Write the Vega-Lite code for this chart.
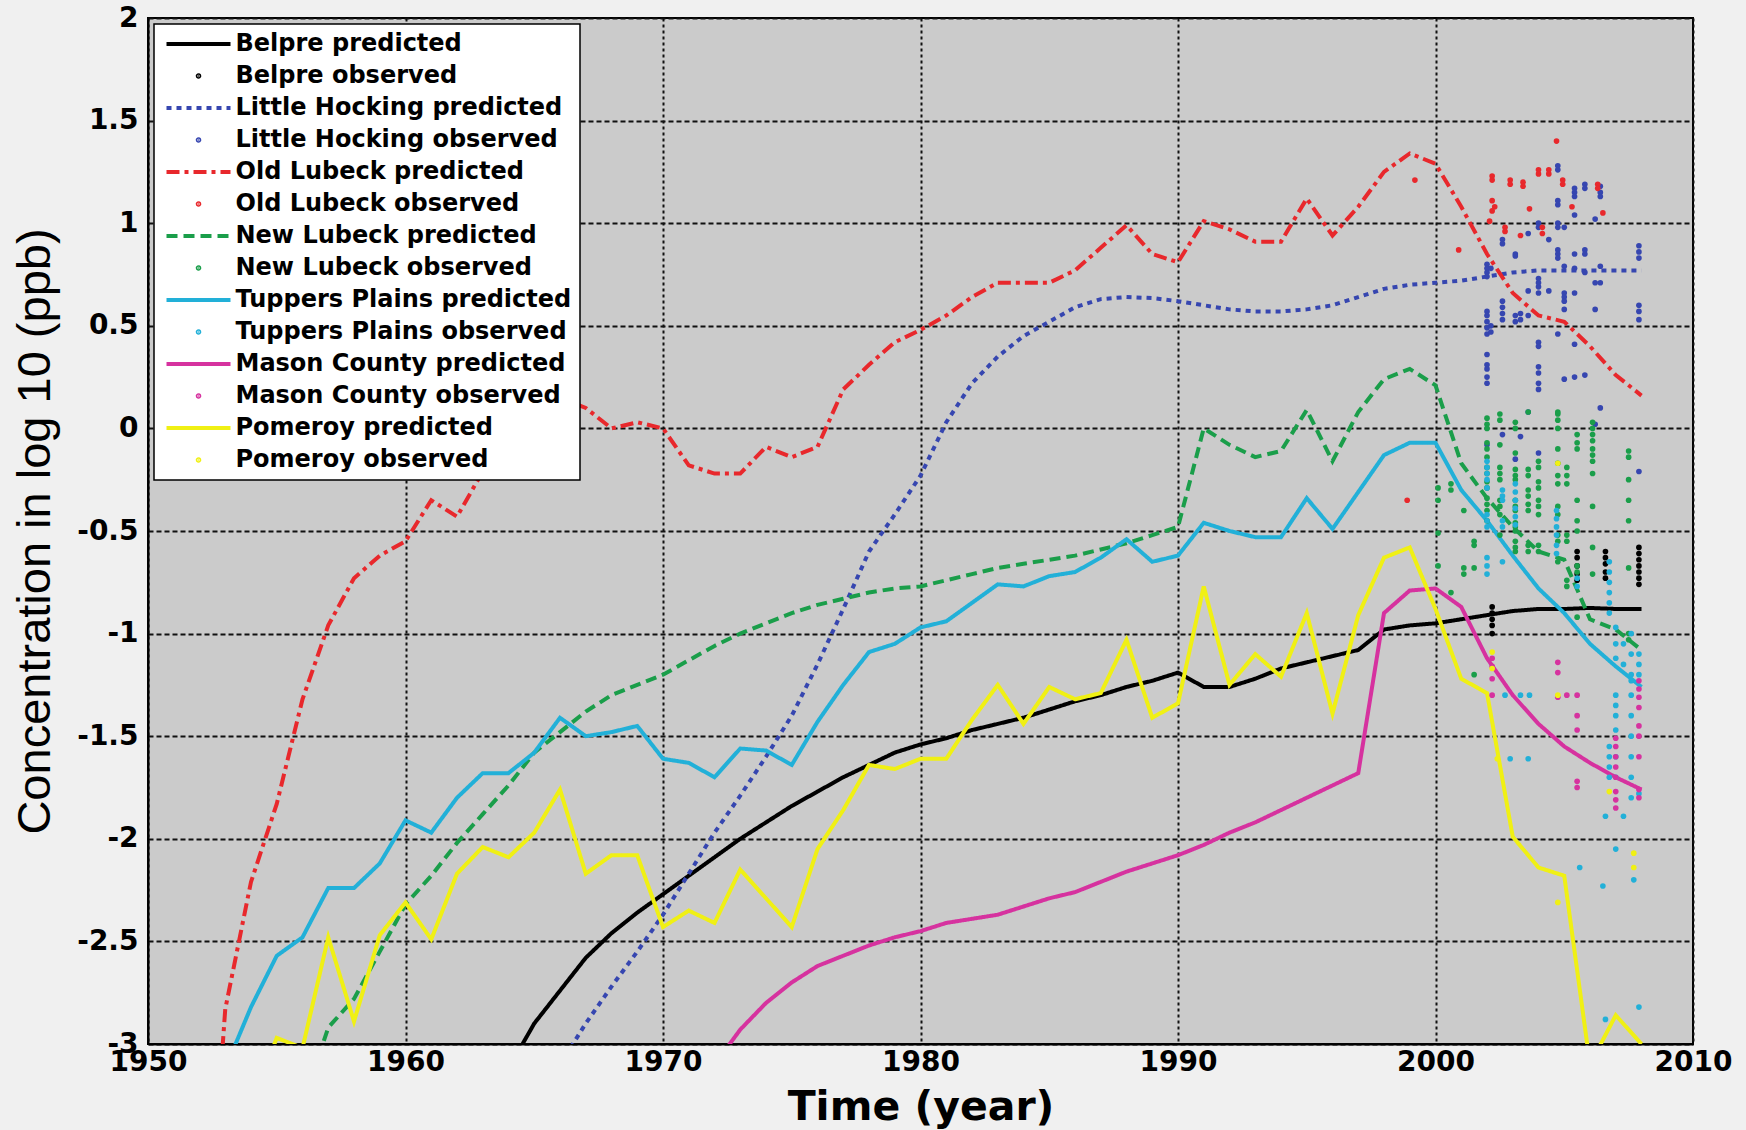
{
  "$schema": "https://vega.github.io/schema/vega-lite/v6.json",
  "width": 1545,
  "height": 1026,
  "autosize": {"type": "none"},
  "padding": {"left": 148, "top": 18, "right": 53, "bottom": 86},
  "background": "#f0f0f0",
  "config": {
    "view": {"fill": "#cbcbcb", "stroke": "#000000", "strokeWidth": 2},
    "axisX": {
      "labelFont": "DejaVu Sans", "labelFontWeight": "bold", "labelFontSize": 28, "labelColor": "#000000",
      "labelPadding": 4, "labelFlush": false, "ticks": false,
      "domainColor": "#000000", "domainWidth": 2,
      "grid": true, "gridColor": "#111111", "gridDash": [3, 3], "gridWidth": 2, "gridOpacity": 1,
      "titleFont": "DejaVu Sans", "titleFontWeight": "bold", "titleFontSize": 41, "titleColor": "#000000", "titlePadding": 11
    },
    "axisY": {
      "labelFont": "DejaVu Sans", "labelFontWeight": "bold", "labelFontSize": 28, "labelColor": "#000000",
      "labelPadding": 10, "ticks": false,
      "domainColor": "#000000", "domainWidth": 2,
      "grid": true, "gridColor": "#111111", "gridDash": [5, 3], "gridWidth": 2, "gridOpacity": 1,
      "titleFont": "Liberation Sans", "titleFontWeight": "normal", "titleFontSize": 47, "titleColor": "#000000", "titlePadding": 17
    }
  },
  "datasets": {
    "predicted": [
      {"s":"Belpre predicted","t":1964,"v":-3.12},{"s":"Belpre predicted","t":1965,"v":-2.9},{"s":"Belpre predicted","t":1966,"v":-2.74},{"s":"Belpre predicted","t":1967,"v":-2.58},{"s":"Belpre predicted","t":1968,"v":-2.46},{"s":"Belpre predicted","t":1969,"v":-2.36},{"s":"Belpre predicted","t":1970,"v":-2.27},{"s":"Belpre predicted","t":1971,"v":-2.18},{"s":"Belpre predicted","t":1972,"v":-2.09},{"s":"Belpre predicted","t":1973,"v":-2.0},{"s":"Belpre predicted","t":1974,"v":-1.92},{"s":"Belpre predicted","t":1975,"v":-1.84},{"s":"Belpre predicted","t":1976,"v":-1.77},{"s":"Belpre predicted","t":1977,"v":-1.7},{"s":"Belpre predicted","t":1978,"v":-1.64},{"s":"Belpre predicted","t":1979,"v":-1.58},{"s":"Belpre predicted","t":1980,"v":-1.54},{"s":"Belpre predicted","t":1981,"v":-1.51},{"s":"Belpre predicted","t":1982,"v":-1.47},{"s":"Belpre predicted","t":1983,"v":-1.44},{"s":"Belpre predicted","t":1984,"v":-1.41},{"s":"Belpre predicted","t":1985,"v":-1.37},{"s":"Belpre predicted","t":1986,"v":-1.33},{"s":"Belpre predicted","t":1987,"v":-1.3},{"s":"Belpre predicted","t":1988,"v":-1.26},{"s":"Belpre predicted","t":1989,"v":-1.23},{"s":"Belpre predicted","t":1990,"v":-1.19},{"s":"Belpre predicted","t":1991,"v":-1.26},{"s":"Belpre predicted","t":1992,"v":-1.26},{"s":"Belpre predicted","t":1993,"v":-1.22},{"s":"Belpre predicted","t":1994,"v":-1.17},{"s":"Belpre predicted","t":1995,"v":-1.14},{"s":"Belpre predicted","t":1996,"v":-1.11},{"s":"Belpre predicted","t":1997,"v":-1.08},{"s":"Belpre predicted","t":1998,"v":-0.98},{"s":"Belpre predicted","t":1999,"v":-0.96},{"s":"Belpre predicted","t":2000,"v":-0.95},{"s":"Belpre predicted","t":2001,"v":-0.93},{"s":"Belpre predicted","t":2002,"v":-0.91},{"s":"Belpre predicted","t":2003,"v":-0.89},{"s":"Belpre predicted","t":2004,"v":-0.88},{"s":"Belpre predicted","t":2005,"v":-0.88},{"s":"Belpre predicted","t":2006,"v":-0.875},{"s":"Belpre predicted","t":2007,"v":-0.88},{"s":"Belpre predicted","t":2008,"v":-0.88},

      {"s":"Little Hocking predicted","t":1966,"v":-3.1},{"s":"Little Hocking predicted","t":1967,"v":-2.9},{"s":"Little Hocking predicted","t":1968,"v":-2.72},{"s":"Little Hocking predicted","t":1969,"v":-2.55},{"s":"Little Hocking predicted","t":1970,"v":-2.37},{"s":"Little Hocking predicted","t":1971,"v":-2.17},{"s":"Little Hocking predicted","t":1972,"v":-1.97},{"s":"Little Hocking predicted","t":1973,"v":-1.79},{"s":"Little Hocking predicted","t":1974,"v":-1.6},{"s":"Little Hocking predicted","t":1975,"v":-1.4},{"s":"Little Hocking predicted","t":1976,"v":-1.15},{"s":"Little Hocking predicted","t":1977,"v":-0.88},{"s":"Little Hocking predicted","t":1978,"v":-0.6},{"s":"Little Hocking predicted","t":1979,"v":-0.42},{"s":"Little Hocking predicted","t":1980,"v":-0.23},{"s":"Little Hocking predicted","t":1981,"v":0.03},{"s":"Little Hocking predicted","t":1982,"v":0.22},{"s":"Little Hocking predicted","t":1983,"v":0.35},{"s":"Little Hocking predicted","t":1984,"v":0.45},{"s":"Little Hocking predicted","t":1985,"v":0.52},{"s":"Little Hocking predicted","t":1986,"v":0.59},{"s":"Little Hocking predicted","t":1987,"v":0.63},{"s":"Little Hocking predicted","t":1988,"v":0.64},{"s":"Little Hocking predicted","t":1989,"v":0.635},{"s":"Little Hocking predicted","t":1990,"v":0.62},{"s":"Little Hocking predicted","t":1991,"v":0.6},{"s":"Little Hocking predicted","t":1992,"v":0.58},{"s":"Little Hocking predicted","t":1993,"v":0.57},{"s":"Little Hocking predicted","t":1994,"v":0.57},{"s":"Little Hocking predicted","t":1995,"v":0.58},{"s":"Little Hocking predicted","t":1996,"v":0.6},{"s":"Little Hocking predicted","t":1997,"v":0.64},{"s":"Little Hocking predicted","t":1998,"v":0.68},{"s":"Little Hocking predicted","t":1999,"v":0.7},{"s":"Little Hocking predicted","t":2000,"v":0.71},{"s":"Little Hocking predicted","t":2001,"v":0.72},{"s":"Little Hocking predicted","t":2002,"v":0.74},{"s":"Little Hocking predicted","t":2003,"v":0.76},{"s":"Little Hocking predicted","t":2004,"v":0.77},{"s":"Little Hocking predicted","t":2005,"v":0.77},{"s":"Little Hocking predicted","t":2006,"v":0.77},{"s":"Little Hocking predicted","t":2007,"v":0.77},{"s":"Little Hocking predicted","t":2008,"v":0.77},

      {"s":"Old Lubeck predicted","t":1952,"v":-4.6},{"s":"Old Lubeck predicted","t":1953,"v":-2.83},{"s":"Old Lubeck predicted","t":1954,"v":-2.21},{"s":"Old Lubeck predicted","t":1955,"v":-1.83},{"s":"Old Lubeck predicted","t":1956,"v":-1.32},{"s":"Old Lubeck predicted","t":1957,"v":-0.96},{"s":"Old Lubeck predicted","t":1958,"v":-0.73},{"s":"Old Lubeck predicted","t":1959,"v":-0.62},{"s":"Old Lubeck predicted","t":1960,"v":-0.55},{"s":"Old Lubeck predicted","t":1961,"v":-0.35},{"s":"Old Lubeck predicted","t":1962,"v":-0.43},{"s":"Old Lubeck predicted","t":1963,"v":-0.21},{"s":"Old Lubeck predicted","t":1964,"v":-0.06},{"s":"Old Lubeck predicted","t":1965,"v":0.06},{"s":"Old Lubeck predicted","t":1966,"v":0.15},{"s":"Old Lubeck predicted","t":1967,"v":0.1},{"s":"Old Lubeck predicted","t":1968,"v":0.0},{"s":"Old Lubeck predicted","t":1969,"v":0.03},{"s":"Old Lubeck predicted","t":1970,"v":0.0},{"s":"Old Lubeck predicted","t":1971,"v":-0.18},{"s":"Old Lubeck predicted","t":1972,"v":-0.22},{"s":"Old Lubeck predicted","t":1973,"v":-0.22},{"s":"Old Lubeck predicted","t":1974,"v":-0.09},{"s":"Old Lubeck predicted","t":1975,"v":-0.14},{"s":"Old Lubeck predicted","t":1976,"v":-0.09},{"s":"Old Lubeck predicted","t":1977,"v":0.19},{"s":"Old Lubeck predicted","t":1978,"v":0.31},{"s":"Old Lubeck predicted","t":1979,"v":0.42},{"s":"Old Lubeck predicted","t":1980,"v":0.48},{"s":"Old Lubeck predicted","t":1981,"v":0.55},{"s":"Old Lubeck predicted","t":1982,"v":0.64},{"s":"Old Lubeck predicted","t":1983,"v":0.71},{"s":"Old Lubeck predicted","t":1984,"v":0.71},{"s":"Old Lubeck predicted","t":1985,"v":0.71},{"s":"Old Lubeck predicted","t":1986,"v":0.77},{"s":"Old Lubeck predicted","t":1987,"v":0.88},{"s":"Old Lubeck predicted","t":1988,"v":0.99},{"s":"Old Lubeck predicted","t":1989,"v":0.85},{"s":"Old Lubeck predicted","t":1990,"v":0.81},{"s":"Old Lubeck predicted","t":1991,"v":1.01},{"s":"Old Lubeck predicted","t":1992,"v":0.97},{"s":"Old Lubeck predicted","t":1993,"v":0.91},{"s":"Old Lubeck predicted","t":1994,"v":0.91},{"s":"Old Lubeck predicted","t":1995,"v":1.12},{"s":"Old Lubeck predicted","t":1996,"v":0.94},{"s":"Old Lubeck predicted","t":1997,"v":1.08},{"s":"Old Lubeck predicted","t":1998,"v":1.25},{"s":"Old Lubeck predicted","t":1999,"v":1.34},{"s":"Old Lubeck predicted","t":2000,"v":1.29},{"s":"Old Lubeck predicted","t":2001,"v":1.08},{"s":"Old Lubeck predicted","t":2002,"v":0.85},{"s":"Old Lubeck predicted","t":2003,"v":0.66},{"s":"Old Lubeck predicted","t":2004,"v":0.55},{"s":"Old Lubeck predicted","t":2005,"v":0.52},{"s":"Old Lubeck predicted","t":2006,"v":0.4},{"s":"Old Lubeck predicted","t":2007,"v":0.26},{"s":"Old Lubeck predicted","t":2008,"v":0.16},

      {"s":"New Lubeck predicted","t":1956,"v":-3.3},{"s":"New Lubeck predicted","t":1957,"v":-2.92},{"s":"New Lubeck predicted","t":1958,"v":-2.78},{"s":"New Lubeck predicted","t":1959,"v":-2.55},{"s":"New Lubeck predicted","t":1960,"v":-2.32},{"s":"New Lubeck predicted","t":1961,"v":-2.18},{"s":"New Lubeck predicted","t":1962,"v":-2.02},{"s":"New Lubeck predicted","t":1963,"v":-1.88},{"s":"New Lubeck predicted","t":1964,"v":-1.74},{"s":"New Lubeck predicted","t":1965,"v":-1.58},{"s":"New Lubeck predicted","t":1966,"v":-1.48},{"s":"New Lubeck predicted","t":1967,"v":-1.38},{"s":"New Lubeck predicted","t":1968,"v":-1.3},{"s":"New Lubeck predicted","t":1969,"v":-1.25},{"s":"New Lubeck predicted","t":1970,"v":-1.2},{"s":"New Lubeck predicted","t":1971,"v":-1.13},{"s":"New Lubeck predicted","t":1972,"v":-1.06},{"s":"New Lubeck predicted","t":1973,"v":-1.0},{"s":"New Lubeck predicted","t":1974,"v":-0.95},{"s":"New Lubeck predicted","t":1975,"v":-0.9},{"s":"New Lubeck predicted","t":1976,"v":-0.86},{"s":"New Lubeck predicted","t":1977,"v":-0.83},{"s":"New Lubeck predicted","t":1978,"v":-0.8},{"s":"New Lubeck predicted","t":1979,"v":-0.78},{"s":"New Lubeck predicted","t":1980,"v":-0.77},{"s":"New Lubeck predicted","t":1981,"v":-0.74},{"s":"New Lubeck predicted","t":1982,"v":-0.71},{"s":"New Lubeck predicted","t":1983,"v":-0.68},{"s":"New Lubeck predicted","t":1984,"v":-0.66},{"s":"New Lubeck predicted","t":1985,"v":-0.64},{"s":"New Lubeck predicted","t":1986,"v":-0.62},{"s":"New Lubeck predicted","t":1987,"v":-0.59},{"s":"New Lubeck predicted","t":1988,"v":-0.56},{"s":"New Lubeck predicted","t":1989,"v":-0.52},{"s":"New Lubeck predicted","t":1990,"v":-0.48},{"s":"New Lubeck predicted","t":1991,"v":0.0},{"s":"New Lubeck predicted","t":1992,"v":-0.08},{"s":"New Lubeck predicted","t":1993,"v":-0.14},{"s":"New Lubeck predicted","t":1994,"v":-0.11},{"s":"New Lubeck predicted","t":1995,"v":0.09},{"s":"New Lubeck predicted","t":1996,"v":-0.16},{"s":"New Lubeck predicted","t":1997,"v":0.08},{"s":"New Lubeck predicted","t":1998,"v":0.24},{"s":"New Lubeck predicted","t":1999,"v":0.29},{"s":"New Lubeck predicted","t":2000,"v":0.21},{"s":"New Lubeck predicted","t":2001,"v":-0.17},{"s":"New Lubeck predicted","t":2002,"v":-0.34},{"s":"New Lubeck predicted","t":2003,"v":-0.48},{"s":"New Lubeck predicted","t":2004,"v":-0.6},{"s":"New Lubeck predicted","t":2005,"v":-0.64},{"s":"New Lubeck predicted","t":2006,"v":-0.93},{"s":"New Lubeck predicted","t":2007,"v":-0.98},{"s":"New Lubeck predicted","t":2008,"v":-1.08},

      {"s":"Tuppers Plains predicted","t":1953,"v":-3.12},{"s":"Tuppers Plains predicted","t":1954,"v":-2.82},{"s":"Tuppers Plains predicted","t":1955,"v":-2.57},{"s":"Tuppers Plains predicted","t":1956,"v":-2.48},{"s":"Tuppers Plains predicted","t":1957,"v":-2.24},{"s":"Tuppers Plains predicted","t":1958,"v":-2.24},{"s":"Tuppers Plains predicted","t":1959,"v":-2.12},{"s":"Tuppers Plains predicted","t":1960,"v":-1.91},{"s":"Tuppers Plains predicted","t":1961,"v":-1.97},{"s":"Tuppers Plains predicted","t":1962,"v":-1.8},{"s":"Tuppers Plains predicted","t":1963,"v":-1.68},{"s":"Tuppers Plains predicted","t":1964,"v":-1.68},{"s":"Tuppers Plains predicted","t":1965,"v":-1.58},{"s":"Tuppers Plains predicted","t":1966,"v":-1.41},{"s":"Tuppers Plains predicted","t":1967,"v":-1.5},{"s":"Tuppers Plains predicted","t":1968,"v":-1.48},{"s":"Tuppers Plains predicted","t":1969,"v":-1.45},{"s":"Tuppers Plains predicted","t":1970,"v":-1.61},{"s":"Tuppers Plains predicted","t":1971,"v":-1.63},{"s":"Tuppers Plains predicted","t":1972,"v":-1.7},{"s":"Tuppers Plains predicted","t":1973,"v":-1.56},{"s":"Tuppers Plains predicted","t":1974,"v":-1.57},{"s":"Tuppers Plains predicted","t":1975,"v":-1.64},{"s":"Tuppers Plains predicted","t":1976,"v":-1.43},{"s":"Tuppers Plains predicted","t":1977,"v":-1.25},{"s":"Tuppers Plains predicted","t":1978,"v":-1.09},{"s":"Tuppers Plains predicted","t":1979,"v":-1.05},{"s":"Tuppers Plains predicted","t":1980,"v":-0.97},{"s":"Tuppers Plains predicted","t":1981,"v":-0.94},{"s":"Tuppers Plains predicted","t":1982,"v":-0.85},{"s":"Tuppers Plains predicted","t":1983,"v":-0.76},{"s":"Tuppers Plains predicted","t":1984,"v":-0.77},{"s":"Tuppers Plains predicted","t":1985,"v":-0.72},{"s":"Tuppers Plains predicted","t":1986,"v":-0.7},{"s":"Tuppers Plains predicted","t":1987,"v":-0.63},{"s":"Tuppers Plains predicted","t":1988,"v":-0.54},{"s":"Tuppers Plains predicted","t":1989,"v":-0.65},{"s":"Tuppers Plains predicted","t":1990,"v":-0.62},{"s":"Tuppers Plains predicted","t":1991,"v":-0.46},{"s":"Tuppers Plains predicted","t":1992,"v":-0.5},{"s":"Tuppers Plains predicted","t":1993,"v":-0.53},{"s":"Tuppers Plains predicted","t":1994,"v":-0.53},{"s":"Tuppers Plains predicted","t":1995,"v":-0.34},{"s":"Tuppers Plains predicted","t":1996,"v":-0.49},{"s":"Tuppers Plains predicted","t":1997,"v":-0.31},{"s":"Tuppers Plains predicted","t":1998,"v":-0.13},{"s":"Tuppers Plains predicted","t":1999,"v":-0.07},{"s":"Tuppers Plains predicted","t":2000,"v":-0.07},{"s":"Tuppers Plains predicted","t":2001,"v":-0.3},{"s":"Tuppers Plains predicted","t":2002,"v":-0.45},{"s":"Tuppers Plains predicted","t":2003,"v":-0.62},{"s":"Tuppers Plains predicted","t":2004,"v":-0.78},{"s":"Tuppers Plains predicted","t":2005,"v":-0.9},{"s":"Tuppers Plains predicted","t":2006,"v":-1.05},{"s":"Tuppers Plains predicted","t":2007,"v":-1.16},{"s":"Tuppers Plains predicted","t":2008,"v":-1.26},

      {"s":"Mason County predicted","t":1972,"v":-3.1},{"s":"Mason County predicted","t":1973,"v":-2.93},{"s":"Mason County predicted","t":1974,"v":-2.8},{"s":"Mason County predicted","t":1975,"v":-2.7},{"s":"Mason County predicted","t":1976,"v":-2.62},{"s":"Mason County predicted","t":1977,"v":-2.57},{"s":"Mason County predicted","t":1978,"v":-2.52},{"s":"Mason County predicted","t":1979,"v":-2.48},{"s":"Mason County predicted","t":1980,"v":-2.45},{"s":"Mason County predicted","t":1981,"v":-2.41},{"s":"Mason County predicted","t":1982,"v":-2.39},{"s":"Mason County predicted","t":1983,"v":-2.37},{"s":"Mason County predicted","t":1984,"v":-2.33},{"s":"Mason County predicted","t":1985,"v":-2.29},{"s":"Mason County predicted","t":1986,"v":-2.26},{"s":"Mason County predicted","t":1987,"v":-2.21},{"s":"Mason County predicted","t":1988,"v":-2.16},{"s":"Mason County predicted","t":1989,"v":-2.12},{"s":"Mason County predicted","t":1990,"v":-2.08},{"s":"Mason County predicted","t":1991,"v":-2.03},{"s":"Mason County predicted","t":1992,"v":-1.97},{"s":"Mason County predicted","t":1993,"v":-1.92},{"s":"Mason County predicted","t":1994,"v":-1.86},{"s":"Mason County predicted","t":1995,"v":-1.8},{"s":"Mason County predicted","t":1996,"v":-1.74},{"s":"Mason County predicted","t":1997,"v":-1.68},{"s":"Mason County predicted","t":1998,"v":-0.9},{"s":"Mason County predicted","t":1999,"v":-0.79},{"s":"Mason County predicted","t":2000,"v":-0.78},{"s":"Mason County predicted","t":2001,"v":-0.87},{"s":"Mason County predicted","t":2002,"v":-1.12},{"s":"Mason County predicted","t":2003,"v":-1.3},{"s":"Mason County predicted","t":2004,"v":-1.44},{"s":"Mason County predicted","t":2005,"v":-1.55},{"s":"Mason County predicted","t":2006,"v":-1.63},{"s":"Mason County predicted","t":2007,"v":-1.7},{"s":"Mason County predicted","t":2008,"v":-1.76},

      {"s":"Pomeroy predicted","t":1954,"v":-3.3},{"s":"Pomeroy predicted","t":1955,"v":-2.97},{"s":"Pomeroy predicted","t":1956,"v":-3.02},{"s":"Pomeroy predicted","t":1957,"v":-2.48},{"s":"Pomeroy predicted","t":1958,"v":-2.89},{"s":"Pomeroy predicted","t":1959,"v":-2.47},{"s":"Pomeroy predicted","t":1960,"v":-2.31},{"s":"Pomeroy predicted","t":1961,"v":-2.49},{"s":"Pomeroy predicted","t":1962,"v":-2.17},{"s":"Pomeroy predicted","t":1963,"v":-2.04},{"s":"Pomeroy predicted","t":1964,"v":-2.09},{"s":"Pomeroy predicted","t":1965,"v":-1.97},{"s":"Pomeroy predicted","t":1966,"v":-1.76},{"s":"Pomeroy predicted","t":1967,"v":-2.17},{"s":"Pomeroy predicted","t":1968,"v":-2.08},{"s":"Pomeroy predicted","t":1969,"v":-2.08},{"s":"Pomeroy predicted","t":1970,"v":-2.43},{"s":"Pomeroy predicted","t":1971,"v":-2.35},{"s":"Pomeroy predicted","t":1972,"v":-2.41},{"s":"Pomeroy predicted","t":1973,"v":-2.15},{"s":"Pomeroy predicted","t":1974,"v":-2.29},{"s":"Pomeroy predicted","t":1975,"v":-2.43},{"s":"Pomeroy predicted","t":1976,"v":-2.05},{"s":"Pomeroy predicted","t":1977,"v":-1.86},{"s":"Pomeroy predicted","t":1978,"v":-1.64},{"s":"Pomeroy predicted","t":1979,"v":-1.66},{"s":"Pomeroy predicted","t":1980,"v":-1.61},{"s":"Pomeroy predicted","t":1981,"v":-1.61},{"s":"Pomeroy predicted","t":1982,"v":-1.42},{"s":"Pomeroy predicted","t":1983,"v":-1.25},{"s":"Pomeroy predicted","t":1984,"v":-1.44},{"s":"Pomeroy predicted","t":1985,"v":-1.26},{"s":"Pomeroy predicted","t":1986,"v":-1.32},{"s":"Pomeroy predicted","t":1987,"v":-1.29},{"s":"Pomeroy predicted","t":1988,"v":-1.03},{"s":"Pomeroy predicted","t":1989,"v":-1.41},{"s":"Pomeroy predicted","t":1990,"v":-1.34},{"s":"Pomeroy predicted","t":1991,"v":-0.77},{"s":"Pomeroy predicted","t":1992,"v":-1.25},{"s":"Pomeroy predicted","t":1993,"v":-1.1},{"s":"Pomeroy predicted","t":1994,"v":-1.21},{"s":"Pomeroy predicted","t":1995,"v":-0.9},{"s":"Pomeroy predicted","t":1996,"v":-1.39},{"s":"Pomeroy predicted","t":1997,"v":-0.91},{"s":"Pomeroy predicted","t":1998,"v":-0.63},{"s":"Pomeroy predicted","t":1999,"v":-0.58},{"s":"Pomeroy predicted","t":2000,"v":-0.88},{"s":"Pomeroy predicted","t":2001,"v":-1.22},{"s":"Pomeroy predicted","t":2002,"v":-1.29},{"s":"Pomeroy predicted","t":2003,"v":-1.99},{"s":"Pomeroy predicted","t":2004,"v":-2.14},{"s":"Pomeroy predicted","t":2005,"v":-2.18},{"s":"Pomeroy predicted","t":2006,"v":-3.1},{"s":"Pomeroy predicted","t":2007,"v":-2.86},{"s":"Pomeroy predicted","t":2008,"v":-3.0}
    ],
    "observed": [
      {"s":"Belpre observed","t":2002.2,"v":-0.87},{"s":"Belpre observed","t":2002.2,"v":-0.9},{"s":"Belpre observed","t":2002.2,"v":-0.93},{"s":"Belpre observed","t":2002.2,"v":-0.96},{"s":"Belpre observed","t":2002.2,"v":-1.0},
      {"s":"Belpre observed","t":2005.5,"v":-0.6},{"s":"Belpre observed","t":2005.5,"v":-0.63},{"s":"Belpre observed","t":2005.5,"v":-0.67},{"s":"Belpre observed","t":2005.5,"v":-0.71},{"s":"Belpre observed","t":2005.5,"v":-0.74},
      {"s":"Belpre observed","t":2006.6,"v":-0.6},{"s":"Belpre observed","t":2006.6,"v":-0.63},{"s":"Belpre observed","t":2006.6,"v":-0.66},{"s":"Belpre observed","t":2006.6,"v":-0.7},{"s":"Belpre observed","t":2006.6,"v":-0.73},
      {"s":"Belpre observed","t":2007.9,"v":-0.58},{"s":"Belpre observed","t":2007.9,"v":-0.61},{"s":"Belpre observed","t":2007.9,"v":-0.64},{"s":"Belpre observed","t":2007.9,"v":-0.67},{"s":"Belpre observed","t":2007.9,"v":-0.7},{"s":"Belpre observed","t":2007.9,"v":-0.73},{"s":"Belpre observed","t":2007.9,"v":-0.76},

      {"s":"Little Hocking observed","t":2002.0,"v":0.8},{"s":"Little Hocking observed","t":2002.0,"v":0.78},{"s":"Little Hocking observed","t":2002.0,"v":0.76},{"s":"Little Hocking observed","t":2002.0,"v":0.74},{"s":"Little Hocking observed","t":2002.0,"v":0.57},{"s":"Little Hocking observed","t":2002.0,"v":0.55},{"s":"Little Hocking observed","t":2002.0,"v":0.52},{"s":"Little Hocking observed","t":2002.0,"v":0.49},{"s":"Little Hocking observed","t":2002.0,"v":0.46},{"s":"Little Hocking observed","t":2002.0,"v":0.36},{"s":"Little Hocking observed","t":2002.0,"v":0.31},{"s":"Little Hocking observed","t":2002.0,"v":0.29},{"s":"Little Hocking observed","t":2002.0,"v":0.25},{"s":"Little Hocking observed","t":2002.0,"v":0.22},{"s":"Little Hocking observed","t":2002.0,"v":-0.08},
      {"s":"Little Hocking observed","t":2002.15,"v":0.78},{"s":"Little Hocking observed","t":2002.15,"v":0.5},{"s":"Little Hocking observed","t":2002.15,"v":0.47},
      {"s":"Little Hocking observed","t":2002.6,"v":0.92},{"s":"Little Hocking observed","t":2002.6,"v":0.9},{"s":"Little Hocking observed","t":2002.6,"v":0.62},{"s":"Little Hocking observed","t":2002.6,"v":0.59},{"s":"Little Hocking observed","t":2002.6,"v":0.56},{"s":"Little Hocking observed","t":2002.6,"v":0.53},{"s":"Little Hocking observed","t":2002.6,"v":-0.03},
      {"s":"Little Hocking observed","t":2003.1,"v":0.85},{"s":"Little Hocking observed","t":2003.1,"v":0.84},{"s":"Little Hocking observed","t":2003.1,"v":0.55},{"s":"Little Hocking observed","t":2003.1,"v":0.52},{"s":"Little Hocking observed","t":2003.1,"v":-0.15},
      {"s":"Little Hocking observed","t":2003.3,"v":0.56},{"s":"Little Hocking observed","t":2003.3,"v":0.53},{"s":"Little Hocking observed","t":2003.3,"v":-0.04},
      {"s":"Little Hocking observed","t":2003.6,"v":0.95},{"s":"Little Hocking observed","t":2003.6,"v":0.67},{"s":"Little Hocking observed","t":2003.6,"v":0.55},{"s":"Little Hocking observed","t":2003.6,"v":0.08},
      {"s":"Little Hocking observed","t":2004.0,"v":1.0},{"s":"Little Hocking observed","t":2004.0,"v":0.98},{"s":"Little Hocking observed","t":2004.0,"v":0.73},{"s":"Little Hocking observed","t":2004.0,"v":0.71},{"s":"Little Hocking observed","t":2004.0,"v":0.69},{"s":"Little Hocking observed","t":2004.0,"v":0.66},{"s":"Little Hocking observed","t":2004.0,"v":0.42},{"s":"Little Hocking observed","t":2004.0,"v":0.4},{"s":"Little Hocking observed","t":2004.0,"v":0.3},{"s":"Little Hocking observed","t":2004.0,"v":0.27},{"s":"Little Hocking observed","t":2004.0,"v":0.22},{"s":"Little Hocking observed","t":2004.0,"v":0.19},{"s":"Little Hocking observed","t":2004.0,"v":-0.12},
      {"s":"Little Hocking observed","t":2004.4,"v":0.92},{"s":"Little Hocking observed","t":2004.4,"v":0.67},
      {"s":"Little Hocking observed","t":2004.75,"v":1.28},{"s":"Little Hocking observed","t":2004.75,"v":1.26},{"s":"Little Hocking observed","t":2004.75,"v":1.11},{"s":"Little Hocking observed","t":2004.75,"v":1.09},{"s":"Little Hocking observed","t":2004.75,"v":1.0},{"s":"Little Hocking observed","t":2004.75,"v":0.98},{"s":"Little Hocking observed","t":2004.75,"v":0.87},{"s":"Little Hocking observed","t":2004.75,"v":0.85},{"s":"Little Hocking observed","t":2004.75,"v":0.83},{"s":"Little Hocking observed","t":2004.75,"v":0.46},
      {"s":"Little Hocking observed","t":2005.0,"v":0.98},{"s":"Little Hocking observed","t":2005.0,"v":0.79},{"s":"Little Hocking observed","t":2005.0,"v":0.66},{"s":"Little Hocking observed","t":2005.0,"v":0.64},{"s":"Little Hocking observed","t":2005.0,"v":0.62},{"s":"Little Hocking observed","t":2005.0,"v":0.58},{"s":"Little Hocking observed","t":2005.0,"v":0.24},
      {"s":"Little Hocking observed","t":2005.4,"v":1.17},{"s":"Little Hocking observed","t":2005.4,"v":1.15},{"s":"Little Hocking observed","t":2005.4,"v":1.13},{"s":"Little Hocking observed","t":2005.4,"v":1.04},{"s":"Little Hocking observed","t":2005.4,"v":0.85},{"s":"Little Hocking observed","t":2005.4,"v":0.78},{"s":"Little Hocking observed","t":2005.4,"v":0.66},{"s":"Little Hocking observed","t":2005.4,"v":0.41},{"s":"Little Hocking observed","t":2005.4,"v":0.25},
      {"s":"Little Hocking observed","t":2005.8,"v":1.19},{"s":"Little Hocking observed","t":2005.8,"v":1.17},{"s":"Little Hocking observed","t":2005.8,"v":0.87},{"s":"Little Hocking observed","t":2005.8,"v":0.85},{"s":"Little Hocking observed","t":2005.8,"v":0.76},{"s":"Little Hocking observed","t":2005.8,"v":0.26},
      {"s":"Little Hocking observed","t":2006.2,"v":1.02},{"s":"Little Hocking observed","t":2006.2,"v":0.71},{"s":"Little Hocking observed","t":2006.2,"v":0.58},{"s":"Little Hocking observed","t":2006.2,"v":0.02},
      {"s":"Little Hocking observed","t":2006.4,"v":1.18},{"s":"Little Hocking observed","t":2006.4,"v":1.15},{"s":"Little Hocking observed","t":2006.4,"v":1.13},{"s":"Little Hocking observed","t":2006.4,"v":0.79},{"s":"Little Hocking observed","t":2006.4,"v":0.71},{"s":"Little Hocking observed","t":2006.4,"v":0.1},
      {"s":"Little Hocking observed","t":2007.9,"v":0.89},{"s":"Little Hocking observed","t":2007.9,"v":0.86},{"s":"Little Hocking observed","t":2007.9,"v":0.83},{"s":"Little Hocking observed","t":2007.9,"v":0.6},{"s":"Little Hocking observed","t":2007.9,"v":0.57},{"s":"Little Hocking observed","t":2007.9,"v":0.53},{"s":"Little Hocking observed","t":2007.9,"v":-0.21},

      {"s":"Old Lubeck observed","t":1999.2,"v":1.21},{"s":"Old Lubeck observed","t":1998.9,"v":-0.35},{"s":"Old Lubeck observed","t":2000.9,"v":0.87},
      {"s":"Old Lubeck observed","t":2002.2,"v":1.23},{"s":"Old Lubeck observed","t":2002.2,"v":1.21},{"s":"Old Lubeck observed","t":2002.2,"v":1.11},{"s":"Old Lubeck observed","t":2002.3,"v":1.08},{"s":"Old Lubeck observed","t":2002.2,"v":1.06},{"s":"Old Lubeck observed","t":2002.1,"v":1.01},
      {"s":"Old Lubeck observed","t":2002.7,"v":0.98},{"s":"Old Lubeck observed","t":2002.7,"v":0.96},{"s":"Old Lubeck observed","t":2002.9,"v":1.21},{"s":"Old Lubeck observed","t":2002.9,"v":1.19},
      {"s":"Old Lubeck observed","t":2003.4,"v":1.2},{"s":"Old Lubeck observed","t":2003.4,"v":1.18},{"s":"Old Lubeck observed","t":2003.65,"v":1.07},{"s":"Old Lubeck observed","t":2003.3,"v":0.94},
      {"s":"Old Lubeck observed","t":2004.0,"v":1.26},{"s":"Old Lubeck observed","t":2004.0,"v":1.24},{"s":"Old Lubeck observed","t":2004.4,"v":1.26},{"s":"Old Lubeck observed","t":2004.4,"v":1.24},{"s":"Old Lubeck observed","t":2004.15,"v":0.98},{"s":"Old Lubeck observed","t":2004.15,"v":0.95},
      {"s":"Old Lubeck observed","t":2004.7,"v":1.4},{"s":"Old Lubeck observed","t":2004.94,"v":1.21},{"s":"Old Lubeck observed","t":2004.94,"v":1.19},{"s":"Old Lubeck observed","t":2005.3,"v":1.08},
      {"s":"Old Lubeck observed","t":2006.3,"v":1.19},{"s":"Old Lubeck observed","t":2006.3,"v":1.17},{"s":"Old Lubeck observed","t":2006.5,"v":1.05},

      {"s":"New Lubeck observed","t":2000.1,"v":-0.29},{"s":"New Lubeck observed","t":2000.1,"v":-0.35},{"s":"New Lubeck observed","t":2000.1,"v":-0.51},{"s":"New Lubeck observed","t":2000.1,"v":-0.67},
      {"s":"New Lubeck observed","t":2000.6,"v":-0.27},{"s":"New Lubeck observed","t":2000.6,"v":-0.3},{"s":"New Lubeck observed","t":2000.6,"v":-0.8},
      {"s":"New Lubeck observed","t":2001.1,"v":-0.4},{"s":"New Lubeck observed","t":2001.1,"v":-0.68},{"s":"New Lubeck observed","t":2001.1,"v":-0.71},
      {"s":"New Lubeck observed","t":2001.5,"v":-0.55},{"s":"New Lubeck observed","t":2001.5,"v":-0.57},{"s":"New Lubeck observed","t":2001.5,"v":-0.68},{"s":"New Lubeck observed","t":2001.5,"v":-1.2},
      {"s":"New Lubeck observed","t":2002.0,"v":0.05},{"s":"New Lubeck observed","t":2002.0,"v":0.02},{"s":"New Lubeck observed","t":2002.0,"v":0.0},{"s":"New Lubeck observed","t":2002.0,"v":-0.07},{"s":"New Lubeck observed","t":2002.0,"v":-0.1},{"s":"New Lubeck observed","t":2002.0,"v":-0.14},{"s":"New Lubeck observed","t":2002.0,"v":-0.19},{"s":"New Lubeck observed","t":2002.0,"v":-0.22},{"s":"New Lubeck observed","t":2002.0,"v":-0.26},{"s":"New Lubeck observed","t":2002.0,"v":-0.29},{"s":"New Lubeck observed","t":2002.0,"v":-0.34},{"s":"New Lubeck observed","t":2002.0,"v":-0.37},{"s":"New Lubeck observed","t":2002.0,"v":-0.4},{"s":"New Lubeck observed","t":2002.0,"v":-0.45},
      {"s":"New Lubeck observed","t":2002.5,"v":0.07},{"s":"New Lubeck observed","t":2002.5,"v":0.04},{"s":"New Lubeck observed","t":2002.5,"v":-0.08},{"s":"New Lubeck observed","t":2002.5,"v":-0.19},{"s":"New Lubeck observed","t":2002.5,"v":-0.22},{"s":"New Lubeck observed","t":2002.5,"v":-0.25},{"s":"New Lubeck observed","t":2002.5,"v":-0.35},{"s":"New Lubeck observed","t":2002.5,"v":-0.38},{"s":"New Lubeck observed","t":2002.5,"v":-0.42},{"s":"New Lubeck observed","t":2002.5,"v":-0.52},
      {"s":"New Lubeck observed","t":2003.1,"v":0.03},{"s":"New Lubeck observed","t":2003.1,"v":0.0},{"s":"New Lubeck observed","t":2003.1,"v":-0.12},{"s":"New Lubeck observed","t":2003.1,"v":-0.2},{"s":"New Lubeck observed","t":2003.1,"v":-0.23},{"s":"New Lubeck observed","t":2003.1,"v":-0.25},{"s":"New Lubeck observed","t":2003.1,"v":-0.35},{"s":"New Lubeck observed","t":2003.1,"v":-0.38},{"s":"New Lubeck observed","t":2003.1,"v":-0.4},{"s":"New Lubeck observed","t":2003.1,"v":-0.46},{"s":"New Lubeck observed","t":2003.1,"v":-0.48},{"s":"New Lubeck observed","t":2003.1,"v":-0.5},{"s":"New Lubeck observed","t":2003.1,"v":-0.55},{"s":"New Lubeck observed","t":2003.1,"v":-0.58},{"s":"New Lubeck observed","t":2003.1,"v":-0.6},
      {"s":"New Lubeck observed","t":2003.6,"v":0.08},{"s":"New Lubeck observed","t":2003.6,"v":-0.2},{"s":"New Lubeck observed","t":2003.6,"v":-0.23},{"s":"New Lubeck observed","t":2003.6,"v":-0.3},{"s":"New Lubeck observed","t":2003.6,"v":-0.33},{"s":"New Lubeck observed","t":2003.6,"v":-0.37},{"s":"New Lubeck observed","t":2003.6,"v":-0.4},{"s":"New Lubeck observed","t":2003.6,"v":-0.57},{"s":"New Lubeck observed","t":2003.6,"v":-0.6},
      {"s":"New Lubeck observed","t":2004.0,"v":-0.16},{"s":"New Lubeck observed","t":2004.0,"v":-0.19},{"s":"New Lubeck observed","t":2004.0,"v":-0.26},{"s":"New Lubeck observed","t":2004.0,"v":-0.29},{"s":"New Lubeck observed","t":2004.0,"v":-0.35},{"s":"New Lubeck observed","t":2004.0,"v":-0.38},{"s":"New Lubeck observed","t":2004.0,"v":-0.42},{"s":"New Lubeck observed","t":2004.0,"v":-0.57},{"s":"New Lubeck observed","t":2004.0,"v":-0.6},
      {"s":"New Lubeck observed","t":2004.75,"v":0.08},{"s":"New Lubeck observed","t":2004.75,"v":0.07},{"s":"New Lubeck observed","t":2004.75,"v":0.04},{"s":"New Lubeck observed","t":2004.75,"v":0.0},{"s":"New Lubeck observed","t":2004.75,"v":-0.1},{"s":"New Lubeck observed","t":2004.75,"v":-0.17},{"s":"New Lubeck observed","t":2004.75,"v":-0.23},{"s":"New Lubeck observed","t":2004.75,"v":-0.27},{"s":"New Lubeck observed","t":2004.75,"v":-0.38},{"s":"New Lubeck observed","t":2004.75,"v":-0.42},{"s":"New Lubeck observed","t":2004.75,"v":-0.52},{"s":"New Lubeck observed","t":2004.75,"v":-0.55},{"s":"New Lubeck observed","t":2004.75,"v":-0.65},
      {"s":"New Lubeck observed","t":2005.1,"v":-0.19},{"s":"New Lubeck observed","t":2005.1,"v":-0.23},{"s":"New Lubeck observed","t":2005.1,"v":-0.27},{"s":"New Lubeck observed","t":2005.1,"v":-0.52},{"s":"New Lubeck observed","t":2005.1,"v":-0.55},{"s":"New Lubeck observed","t":2005.1,"v":-0.74},{"s":"New Lubeck observed","t":2005.1,"v":-0.77},
      {"s":"New Lubeck observed","t":2005.5,"v":-0.03},{"s":"New Lubeck observed","t":2005.5,"v":-0.07},{"s":"New Lubeck observed","t":2005.5,"v":-0.1},{"s":"New Lubeck observed","t":2005.5,"v":-0.35},{"s":"New Lubeck observed","t":2005.5,"v":-0.45},{"s":"New Lubeck observed","t":2005.5,"v":-0.5},{"s":"New Lubeck observed","t":2005.5,"v":-0.67},{"s":"New Lubeck observed","t":2005.5,"v":-0.7},{"s":"New Lubeck observed","t":2005.5,"v":-0.92},
      {"s":"New Lubeck observed","t":2006.1,"v":0.03},{"s":"New Lubeck observed","t":2006.1,"v":0.0},{"s":"New Lubeck observed","t":2006.1,"v":-0.03},{"s":"New Lubeck observed","t":2006.1,"v":-0.06},{"s":"New Lubeck observed","t":2006.1,"v":-0.1},{"s":"New Lubeck observed","t":2006.1,"v":-0.13},{"s":"New Lubeck observed","t":2006.1,"v":-0.16},{"s":"New Lubeck observed","t":2006.1,"v":-0.22},{"s":"New Lubeck observed","t":2006.1,"v":-0.38},{"s":"New Lubeck observed","t":2006.1,"v":-0.58},{"s":"New Lubeck observed","t":2006.1,"v":-0.71},
      {"s":"New Lubeck observed","t":2007.5,"v":-0.11},{"s":"New Lubeck observed","t":2007.5,"v":-0.14},{"s":"New Lubeck observed","t":2007.5,"v":-0.25},{"s":"New Lubeck observed","t":2007.5,"v":-0.35},{"s":"New Lubeck observed","t":2007.5,"v":-0.45},{"s":"New Lubeck observed","t":2007.5,"v":-0.68},{"s":"New Lubeck observed","t":2007.5,"v":-1.0},{"s":"New Lubeck observed","t":2007.5,"v":-1.03},

      {"s":"Tuppers Plains observed","t":2002.0,"v":-0.16},{"s":"Tuppers Plains observed","t":2002.0,"v":-0.19},{"s":"Tuppers Plains observed","t":2002.0,"v":-0.22},{"s":"Tuppers Plains observed","t":2002.0,"v":-0.25},{"s":"Tuppers Plains observed","t":2002.0,"v":-0.29},{"s":"Tuppers Plains observed","t":2002.0,"v":-0.42},{"s":"Tuppers Plains observed","t":2002.0,"v":-0.45},{"s":"Tuppers Plains observed","t":2002.0,"v":-0.48},{"s":"Tuppers Plains observed","t":2002.0,"v":-0.63},{"s":"Tuppers Plains observed","t":2002.0,"v":-0.67},{"s":"Tuppers Plains observed","t":2002.0,"v":-0.71},
      {"s":"Tuppers Plains observed","t":2002.6,"v":-0.3},{"s":"Tuppers Plains observed","t":2002.6,"v":-0.33},{"s":"Tuppers Plains observed","t":2002.6,"v":-0.35},{"s":"Tuppers Plains observed","t":2002.6,"v":-0.45},{"s":"Tuppers Plains observed","t":2002.6,"v":-0.48},{"s":"Tuppers Plains observed","t":2002.6,"v":-0.65},{"s":"Tuppers Plains observed","t":2002.7,"v":-1.3},
      {"s":"Tuppers Plains observed","t":2002.9,"v":-1.61},
      {"s":"Tuppers Plains observed","t":2003.1,"v":-0.27},{"s":"Tuppers Plains observed","t":2003.1,"v":-0.31},{"s":"Tuppers Plains observed","t":2003.1,"v":-0.35},{"s":"Tuppers Plains observed","t":2003.1,"v":-0.39},{"s":"Tuppers Plains observed","t":2003.1,"v":-0.43},{"s":"Tuppers Plains observed","t":2003.1,"v":-0.47},
      {"s":"Tuppers Plains observed","t":2003.3,"v":-1.3},{"s":"Tuppers Plains observed","t":2003.65,"v":-1.3},{"s":"Tuppers Plains observed","t":2003.6,"v":-1.61},
      {"s":"Tuppers Plains observed","t":2004.7,"v":-0.4},{"s":"Tuppers Plains observed","t":2004.7,"v":-0.44},{"s":"Tuppers Plains observed","t":2004.7,"v":-0.48},{"s":"Tuppers Plains observed","t":2004.7,"v":-0.52},{"s":"Tuppers Plains observed","t":2004.7,"v":-0.57},{"s":"Tuppers Plains observed","t":2004.7,"v":-0.61},
      {"s":"Tuppers Plains observed","t":2005.5,"v":-0.73},{"s":"Tuppers Plains observed","t":2005.5,"v":-0.77},{"s":"Tuppers Plains observed","t":2005.6,"v":-2.14},
      {"s":"Tuppers Plains observed","t":2006.5,"v":-2.23},{"s":"Tuppers Plains observed","t":2006.6,"v":-1.89},{"s":"Tuppers Plains observed","t":2006.6,"v":-2.88},
      {"s":"Tuppers Plains observed","t":2006.75,"v":-0.65},{"s":"Tuppers Plains observed","t":2006.75,"v":-0.7},{"s":"Tuppers Plains observed","t":2006.75,"v":-0.75},{"s":"Tuppers Plains observed","t":2006.75,"v":-0.8},{"s":"Tuppers Plains observed","t":2006.75,"v":-0.85},{"s":"Tuppers Plains observed","t":2006.75,"v":-0.9},{"s":"Tuppers Plains observed","t":2006.75,"v":-1.55},{"s":"Tuppers Plains observed","t":2006.75,"v":-1.6},{"s":"Tuppers Plains observed","t":2006.75,"v":-1.65},{"s":"Tuppers Plains observed","t":2006.75,"v":-1.7},
      {"s":"Tuppers Plains observed","t":2007.0,"v":-0.97},{"s":"Tuppers Plains observed","t":2007.0,"v":-1.05},{"s":"Tuppers Plains observed","t":2007.0,"v":-1.12},{"s":"Tuppers Plains observed","t":2007.0,"v":-1.3},{"s":"Tuppers Plains observed","t":2007.0,"v":-1.35},{"s":"Tuppers Plains observed","t":2007.0,"v":-1.4},{"s":"Tuppers Plains observed","t":2007.0,"v":-1.47},{"s":"Tuppers Plains observed","t":2007.0,"v":-1.6},{"s":"Tuppers Plains observed","t":2007.0,"v":-1.7},{"s":"Tuppers Plains observed","t":2007.0,"v":-2.05},
      {"s":"Tuppers Plains observed","t":2007.3,"v":-1.89},{"s":"Tuppers Plains observed","t":2007.3,"v":-1.05},{"s":"Tuppers Plains observed","t":2007.3,"v":-1.15},
      {"s":"Tuppers Plains observed","t":2007.6,"v":-1.0},{"s":"Tuppers Plains observed","t":2007.6,"v":-1.1},{"s":"Tuppers Plains observed","t":2007.6,"v":-1.2},{"s":"Tuppers Plains observed","t":2007.6,"v":-1.23},{"s":"Tuppers Plains observed","t":2007.6,"v":-1.3},{"s":"Tuppers Plains observed","t":2007.6,"v":-1.4},{"s":"Tuppers Plains observed","t":2007.6,"v":-1.5},{"s":"Tuppers Plains observed","t":2007.6,"v":-1.6},{"s":"Tuppers Plains observed","t":2007.6,"v":-1.7},{"s":"Tuppers Plains observed","t":2007.6,"v":-1.8},{"s":"Tuppers Plains observed","t":2007.7,"v":-2.2},
      {"s":"Tuppers Plains observed","t":2007.9,"v":-1.1},{"s":"Tuppers Plains observed","t":2007.9,"v":-1.15},{"s":"Tuppers Plains observed","t":2007.9,"v":-1.2},{"s":"Tuppers Plains observed","t":2007.9,"v":-1.78},{"s":"Tuppers Plains observed","t":2007.9,"v":-2.82},

      {"s":"Mason County observed","t":2002.2,"v":-1.12},{"s":"Mason County observed","t":2002.2,"v":-1.16},{"s":"Mason County observed","t":2002.2,"v":-1.22},{"s":"Mason County observed","t":2002.2,"v":-1.3},
      {"s":"Mason County observed","t":2004.75,"v":-1.14},{"s":"Mason County observed","t":2004.75,"v":-1.19},{"s":"Mason County observed","t":2004.75,"v":-1.31},
      {"s":"Mason County observed","t":2005.1,"v":-1.3},
      {"s":"Mason County observed","t":2005.5,"v":-1.3},{"s":"Mason County observed","t":2005.5,"v":-1.4},{"s":"Mason County observed","t":2005.5,"v":-1.47},{"s":"Mason County observed","t":2005.5,"v":-1.72},{"s":"Mason County observed","t":2005.5,"v":-1.75},
      {"s":"Mason County observed","t":2007.0,"v":-1.51},{"s":"Mason County observed","t":2007.0,"v":-1.55},{"s":"Mason County observed","t":2007.0,"v":-1.6},{"s":"Mason County observed","t":2007.0,"v":-1.65},{"s":"Mason County observed","t":2007.0,"v":-1.7},{"s":"Mason County observed","t":2007.0,"v":-1.77},{"s":"Mason County observed","t":2007.0,"v":-1.81},{"s":"Mason County observed","t":2007.0,"v":-1.85},
      {"s":"Mason County observed","t":2007.9,"v":-1.23},{"s":"Mason County observed","t":2007.9,"v":-1.27},{"s":"Mason County observed","t":2007.9,"v":-1.31},{"s":"Mason County observed","t":2007.9,"v":-1.36},{"s":"Mason County observed","t":2007.9,"v":-1.45},{"s":"Mason County observed","t":2007.9,"v":-1.5},{"s":"Mason County observed","t":2007.9,"v":-1.6},{"s":"Mason County observed","t":2007.9,"v":-1.76},{"s":"Mason County observed","t":2007.9,"v":-1.8},

      {"s":"Pomeroy observed","t":2002.2,"v":-1.09},{"s":"Pomeroy observed","t":2002.2,"v":-1.17},{"s":"Pomeroy observed","t":2002.4,"v":-1.61},
      {"s":"Pomeroy observed","t":2004.75,"v":-0.17},{"s":"Pomeroy observed","t":2004.75,"v":-1.3},{"s":"Pomeroy observed","t":2004.75,"v":-2.31},
      {"s":"Pomeroy observed","t":2006.75,"v":-1.77},{"s":"Pomeroy observed","t":2007.7,"v":-2.07},{"s":"Pomeroy observed","t":2007.7,"v":-2.14}
    ]
  },
  "encoding": {
    "x": {"field": "t", "type": "quantitative", "title": "Time (year)",
          "scale": {"domain": [1950, 2010], "nice": false},
          "axis": {"values": [1950, 1960, 1970, 1980, 1990, 2000, 2010], "format": "d"}},
    "y": {"field": "v", "type": "quantitative", "title": "Concentration in log 10 (ppb)",
          "scale": {"domain": [-3, 2], "nice": false, "zero": false},
          "axis": {"values": [-3, -2.5, -2, -1.5, -1, -0.5, 0, 0.5, 1, 1.5, 2], "labelExpr": "datum.value + ''"}}
  },
  "layer": [
    {
      "data": {"name": "predicted"},
      "mark": {"type": "line", "strokeWidth": 4, "clip": true},
      "encoding": {
        "color": {
          "field": "s", "type": "nominal",
          "scale": {
            "domain": ["Belpre predicted", "Belpre observed", "Little Hocking predicted", "Little Hocking observed", "Old Lubeck predicted", "Old Lubeck observed", "New Lubeck predicted", "New Lubeck observed", "Tuppers Plains predicted", "Tuppers Plains observed", "Mason County predicted", "Mason County observed", "Pomeroy predicted", "Pomeroy observed"],
            "range": ["#000000", "#000000", "#3646b0", "#3646b0", "#e8282c", "#e8282c", "#1a9e4a", "#1a9e4a", "#22b0d8", "#22b0d8", "#d6329f", "#d6329f", "#f0f014", "#f0f014"]
          },
          "legend": {
            "title": null, "orient": "top-left", "offset": 6, "padding": 8, "zindex": 1,
            "fillColor": "#ffffff", "strokeColor": "#000000",
            "labelFont": "DejaVu Sans", "labelFontWeight": "bold", "labelFontSize": 24, "labelColor": "#000000", "labelLimit": 600,
            "rowPadding": 8, "symbolSize": 64, "symbolStrokeWidth": 4, "symbolOffset": 24.5, "labelOffset": 25,
            "encode": {
              "symbols": {"update": {
                "shape": {"signal": "indexof(datum.value, 'observed') >= 0 ? 'M-0.2,0A0.2,0.2 0 1,0 0.2,0A0.2,0.2 0 1,0 -0.2,0Z' : 'M-8,0H8'"},
                "size": {"value": 64},
                "fill": {"scale": "color", "field": "value"},
                "stroke": {"scale": "color", "field": "value"},
                "strokeDash": {"scale": "strokeDash", "field": "value"},
                "strokeWidth": {"value": 4},
                "opacity": {"value": 1}
              }},
              "legend": {"update": {"strokeWidth": {"value": 1.5}}}
            }
          }
        },
        "strokeDash": {
          "field": "s", "type": "nominal", "legend": null,
          "scale": {
            "domain": ["Belpre predicted", "Belpre observed", "Little Hocking predicted", "Little Hocking observed", "Old Lubeck predicted", "Old Lubeck observed", "New Lubeck predicted", "New Lubeck observed", "Tuppers Plains predicted", "Tuppers Plains observed", "Mason County predicted", "Mason County observed", "Pomeroy predicted", "Pomeroy observed"],
            "range": [[1, 0], [1, 0], [5, 5], [1, 0], [13, 5, 4, 5], [1, 0], [11, 6], [1, 0], [1, 0], [1, 0], [1, 0], [1, 0], [1, 0], [1, 0]]
          }
        }
      }
    },
    {
      "data": {"name": "observed"},
      "mark": {"type": "circle", "size": 32, "opacity": 1},
      "encoding": {
        "color": {"field": "s", "type": "nominal", "legend": null}
      }
    }
  ]
}
